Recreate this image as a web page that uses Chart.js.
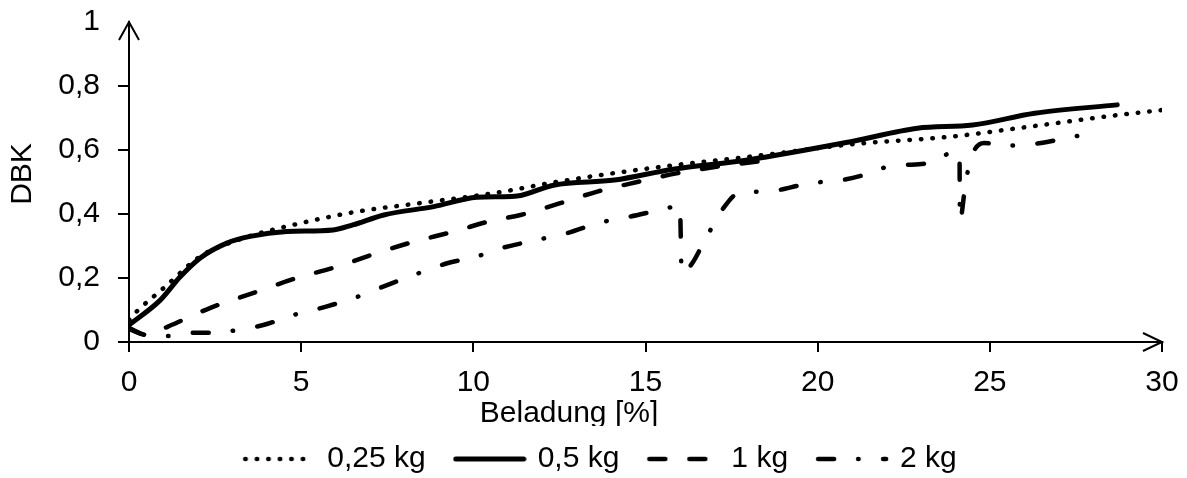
<!DOCTYPE html>
<html>
<head>
<meta charset="utf-8">
<script src="https://cdn.jsdelivr.net/npm/chart.js@4.4.0/dist/chart.umd.min.js"></script>
<style>
html,body{margin:0;padding:0;background:#fff;overflow:hidden}
#wrap{width:1187px;height:478px;position:relative}
</style>
</head>
<body>
<div id="wrap"><canvas id="c" width="1187" height="478"></canvas></div>
<script>
// ---- data ----
const seriesNames = ['0,25 kg', '0,5 kg', '1 kg', '2 kg'];

const x025 = [0, 0.22, 1.0, 2.06, 2.65, 3.6, 4.97, 6.6, 8.37, 10.7, 12.4, 15.05, 18.4, 21.0, 23.9, 25.8, 28.7, 30];
const y025 = [0.069, 0.095, 0.168, 0.267, 0.298, 0.334, 0.371, 0.407, 0.433, 0.467, 0.5, 0.542, 0.584, 0.618, 0.642, 0.668, 0.709, 0.725];

const x05 = [0, 0.9, 1.48, 2.06, 2.84, 3.52, 4.58, 5.93, 6.5, 7.4, 8.85, 10.1, 10.8, 11.27, 12.33, 14.1, 15.8, 17.96, 20.96, 22.9, 24.5, 26.3, 28.7];
const y05 = [0.053, 0.13, 0.203, 0.262, 0.309, 0.33, 0.345, 0.35, 0.366, 0.397, 0.423, 0.452, 0.454, 0.456, 0.49, 0.506, 0.54, 0.569, 0.626, 0.668, 0.678, 0.715, 0.741];

const x1 = [0, 0.5, 1.13, 1.57, 2.35, 3.6, 4.87, 6.03, 7.2, 8.26, 9.43, 10.5, 11.37, 12.5, 13.6, 14.76, 15.9, 17.1, 18.25, 18.6];
const y1 = [0.044, 0.022, 0.048, 0.069, 0.106, 0.153, 0.2, 0.235, 0.278, 0.313, 0.345, 0.378, 0.397, 0.433, 0.47, 0.5, 0.527, 0.548, 0.564, 0.568];

const x2 = [0, 0.5, 1.16, 1.77, 2.35, 3.0, 3.9, 4.77, 5.7, 6.6, 7.38, 8.26, 9.24, 10.1, 10.7, 11.85, 12.72, 13.64, 14.56, 15.44, 16.0, 16.05, 16.35, 16.66, 17.26, 17.7, 18.34, 18.87, 19.5, 20.1, 20.7, 21.34, 21.9, 22.5, 23.14, 23.72, 23.95, 24.12, 24.13, 24.3, 24.47, 24.83, 25.4, 26.0, 26.7, 27.3, 27.9];
const y2 = [0.04, 0.022, 0.019, 0.029, 0.029, 0.035, 0.053, 0.084, 0.11, 0.14, 0.173, 0.209, 0.246, 0.267, 0.29, 0.319, 0.34, 0.372, 0.392, 0.413, 0.425, 0.215, 0.245, 0.305, 0.418, 0.465, 0.47, 0.475, 0.49, 0.5, 0.506, 0.522, 0.544, 0.553, 0.558, 0.585, 0.598, 0.58, 0.38, 0.5, 0.58, 0.622, 0.614, 0.616, 0.626, 0.64, 0.648];

const xTickValues = [0, 5, 10, 15, 20, 25, 30];
const yTickValues = [0, 0.2, 0.4, 0.6, 0.8, 1];
const xTitle = 'Beladung [%]';
const yTitle = 'DBK';

// ---- styles ----
const FONT = '"Liberation Sans", Arial, sans-serif';
const FS = 30;
const lineStyles = [
  {dash: [0.5, 11], width: 4.5},
  {dash: [], width: 5},
  {dash: [16, 24], width: 4.5},
  {dash: [16, 24, 0.5, 24.5], width: 4.5}
];

function pts(xs, ys) { return xs.map((x, i) => ({x: x, y: ys[i]})); }
const allX = [x025, x05, x1, x2];
const allY = [y025, y05, y1, y2];

function makeSample(st) {
  const c = document.createElement('canvas');
  c.width = 74; c.height = 10;
  const g = c.getContext('2d');
  g.strokeStyle = '#000';
  g.lineWidth = st.width;
  g.lineCap = 'round';
  g.setLineDash(st.dash);
  g.beginPath(); g.moveTo(3, 5); g.lineTo(71, 5); g.stroke();
  return c;
}
const samples = lineStyles.map(makeSample);

Chart.defaults.font.family = FONT;
Chart.defaults.font.size = FS;
Chart.defaults.color = '#000';

const decor = {
  id: 'decor',
  afterDraw(chart) {
    const ctx = chart.ctx, a = chart.chartArea;
    ctx.save();
    ctx.strokeStyle = '#000';
    ctx.lineWidth = 2;
    ctx.beginPath();
    ctx.moveTo(a.left - 10, a.top + 18); ctx.lineTo(a.left, a.top); ctx.lineTo(a.left + 10, a.top + 18);
    ctx.stroke();
    ctx.beginPath();
    ctx.moveTo(a.right - 19, a.bottom - 9); ctx.lineTo(a.right, a.bottom); ctx.lineTo(a.right - 19, a.bottom + 9);
    ctx.stroke();
    ctx.fillStyle = '#000';
    ctx.font = FS + 'px ' + FONT;
    ctx.textAlign = 'center';
    ctx.textBaseline = 'middle';
    ctx.save();
    ctx.beginPath(); ctx.rect(0, 0, chart.width, 426); ctx.clip();
    ctx.fillText(xTitle, 569, 414);
    ctx.restore();
    ctx.translate(22.5, 174);
    ctx.rotate(-Math.PI / 2);
    ctx.fillText(yTitle, 0, 0);
    ctx.restore();
  }
};

const datasets = seriesNames.map((name, i) => ({
  label: name,
  data: pts(allX[i], allY[i]),
  borderColor: '#000',
  backgroundColor: '#000',
  borderWidth: lineStyles[i].width,
  borderDash: lineStyles[i].dash,
  borderCapStyle: 'round',
  borderJoinStyle: 'round',
  pointRadius: 0,
  fill: false,
  cubicInterpolationMode: 'monotone'
}));

new Chart(document.getElementById('c'), {
  type: 'line',
  data: {datasets: datasets},
  plugins: [decor],
  options: {
    responsive: false,
    animation: false,
    layout: {padding: {left: 41, right: 25, top: 22, bottom: 0}},
    plugins: {
      tooltip: {enabled: false},
      legend: {
        position: 'bottom',
        maxHeight: 65,
        labels: {
          usePointStyle: true,
          pointStyleWidth: 66,
          padding: 31,
          color: '#000',
          font: {size: FS, family: FONT},
          generateLabels: (chart) => chart.data.datasets.map((ds, i) => ({
            text: ds.label, pointStyle: samples[i], fillStyle: '#000', strokeStyle: '#000',
            lineWidth: 0, hidden: false, datasetIndex: i
          }))
        }
      }
    },
    scales: {
      x: {
        type: 'linear', min: 0, max: 30,
        afterFit: (s) => { s.height = 71; s.paddingLeft = 0; s.paddingRight = 0; },
        afterBuildTicks: (s) => { s.ticks = xTickValues.map(v => ({value: v})); },
        ticks: {padding: 13, color: '#000', font: {size: FS}, maxRotation: 0, callback: (v) => String(v)},
        grid: {display: true, drawOnChartArea: false, drawTicks: true, tickLength: 10, color: '#000', lineWidth: 2},
        border: {display: true, color: '#000', width: 2}
      },
      y: {
        type: 'linear', min: 0, max: 1,
        afterFit: (s) => { s.width = 88; s.paddingTop = 0; s.paddingBottom = 0; },
        afterBuildTicks: (s) => { s.ticks = yTickValues.map(v => ({value: v})); },
        ticks: {padding: 18, color: '#000', font: {size: FS}, callback: (v) => String(Math.round(v * 10) / 10).replace('.', ',')},
        grid: {display: true, drawOnChartArea: false, drawTicks: true, tickLength: 11, lineWidth: 2,
          color: (c) => (c.tick && c.tick.value === 1) ? 'rgba(0,0,0,0)' : '#000'},
        border: {display: true, color: '#000', width: 2}
      }
    }
  }
});
</script>
</body>
</html>
